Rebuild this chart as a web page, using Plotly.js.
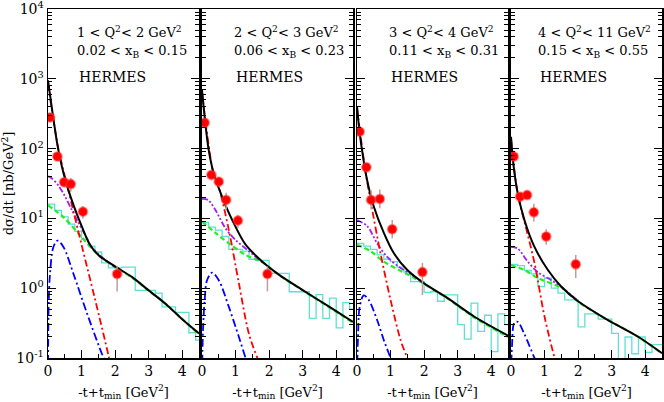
<!DOCTYPE html>
<html>
<head>
<meta charset="utf-8">
<script src="https://cdn.plot.ly/plotly-3.0.1.min.js"></script>
<style>
  html, body {margin: 0; padding: 0; background: white;}
  #chart {width: 664px; height: 402px;}
</style>
</head>
<body>
<div id="chart"></div>
<script>
// y axis ticks (log) and labels
const yTickVals = [0.1, 1, 10, 100, 1000, 10000]
const yTickText = ["10<sup>-1</sup>", "10<sup>0</sup>", "10<sup>1</sup>", "10<sup>2</sup>", "10<sup>3</sup>", "10<sup>4</sup>"]
const xTickVals = [0, 1, 2, 3, 4]

const q2Labels = ["1 &lt; Q<sup>2</sup>&lt; 2 GeV<sup>2</sup>", "2 &lt; Q<sup>2</sup>&lt; 3 GeV<sup>2</sup>", "3 &lt; Q<sup>2</sup>&lt; 4 GeV<sup>2</sup>", "4 &lt; Q<sup>2</sup>&lt; 11 GeV<sup>2</sup>"]
const xbLabels = ["0.02 &lt; x<sub>B</sub> &lt; 0.15", "0.06 &lt; x<sub>B</sub> &lt; 0.23", "0.11 &lt; x<sub>B</sub> &lt; 0.31", "0.15 &lt; x<sub>B</sub> &lt; 0.55"]
const expLabel = "HERMES"

// MC histogram bin edges (shared)
const histEdges = [0, 0.2, 0.4, 0.6, 0.8, 1.0, 1.2, 1.4, 1.6, 1.8, 2.0, 2.2, 2.4, 2.6, 2.8, 3.0, 3.2, 3.4, 3.6, 3.8, 4.0, 4.2, 4.4, 4.6]

// ---- panel 1: 1 < Q2 < 2
const black1T = [0, 0.1, 0.2, 0.3, 0.5, 0.75, 1.0, 1.25, 1.5, 2.0, 2.5, 3.0, 3.5, 4.0, 4.5]
const black1 = [950, 430, 200, 100, 38, 16, 7.8, 4.2, 3.0, 2.05, 1.45, 0.93, 0.6, 0.36, 0.225]
const red1T = [0, 0.3, 0.6, 1.0, 1.4, 1.8, 1.9]
const red1 = [850, 105, 26, 4.2, 0.7, 0.11, 0.065]
const purple1T = [0, 0.1, 0.3, 0.5, 0.7, 0.9, 1.1, 1.3, 1.6, 2.0]
const purple1 = [40, 38, 30, 21, 13.5, 8.8, 5.9, 3.9, 2.8, 2.0]
const green1T = [0, 0.5, 1.0, 1.5, 2.0, 2.5, 3.0, 3.5, 4.0, 4.5]
const green1 = [15.5, 10, 5.4, 3.0, 2.0, 1.42, 0.92, 0.6, 0.36, 0.22]
const blue1T = [0, 0.02, 0.06, 0.16, 0.28, 0.46, 0.76, 1.16, 1.66, 1.8]
const blue1 = [0.05, 0.6, 1.6, 3.9, 4.8, 3.9, 1.6, 0.44, 0.1, 0.075]
const hist1 = [16, 13, 10.5, 8.3, 6.5, 5.0, 4.0, 3.3, 2.3, 1.95, 1.95, 2.0, 2.0, 0.93, 0.93, 0.93, 0.85, 0.54, 0.54, 0.45, 0.45, 0.23, 0.18]
const pt1T = [0.06, 0.28, 0.48, 0.68, 1.04, 2.06]
const pt1 = [280, 77, 33, 31, 12.5, 1.6]
const err1Up = [30, 10, 5, 7, 2.5, 0.5]
const err1Down = [30, 10, 5, 7, 2.5, 0.7]

// ---- panel 2: 2 < Q2 < 3
const black2T = [0, 0.1, 0.2, 0.35, 0.6, 0.9, 1.3, 1.8, 2.3, 3.0, 3.8, 4.5]
const black2 = [690, 229, 95, 44, 20.4, 9.5, 4.2, 2.4, 1.55, 0.94, 0.54, 0.33]
const red2T = [0, 0.2, 0.35, 0.5, 0.8, 1.1, 1.4, 1.65, 1.75]
const red2 = [650, 110, 42, 28, 6.8, 1.17, 0.22, 0.1, 0.075]
const purple2T = [0, 0.18, 0.4, 0.7, 1.0, 1.3, 1.8]
const purple2 = [19, 18.4, 13.2, 7.2, 4.9, 3.7, 2.35]
const green2T = [0, 0.4, 0.8, 1.3, 1.8, 2.3, 3.0, 3.8, 4.5]
const green2 = [9, 6.2, 4.4, 3.0, 2.35, 1.53, 0.93, 0.53, 0.32]
const blue2T = [0, 0.03, 0.08, 0.15, 0.3, 0.5, 0.8, 1.1, 1.3, 1.4]
const blue2 = [0.05, 0.25, 0.68, 1.3, 1.67, 1.3, 0.54, 0.2, 0.1, 0.075]
const hist2 = [8.8, 7.5, 6.8, 5.5, 3.6, 3.6, 3.4, 2.6, 2.5, 2.5, 1.63, 1.63, 1.63, 0.89, 0.89, 0.89, 0.37, 0.81, 0.37, 0.72, 0.27, 0.62, 0.5]
const pt2T = [0.08, 0.28, 0.5, 0.72, 1.07, 1.95]
const pt2 = [235, 42, 33.6, 18.4, 9.3, 1.6]
const err2Up = [25, 6, 5, 5, 2, 0.45]
const err2Down = [25, 6, 5, 5, 2, 0.7]

// ---- panel 3: 3 < Q2 < 4
const black3T = [0, 0.08, 0.18, 0.3, 0.5, 0.8, 1.1, 1.5, 2.0, 2.7, 3.5, 4.5]
const black3 = [400, 166, 76, 35.5, 14.8, 6.2, 3.16, 1.82, 1.17, 0.72, 0.39, 0.21]
const red3T = [0, 0.25, 0.4, 0.7, 1.0, 1.3, 1.5, 1.6]
const red3 = [380, 48, 18.4, 3.16, 0.68, 0.18, 0.1, 0.075]
const purple3T = [0, 0.3, 0.6, 0.9, 1.3, 1.6, 2.0]
const purple3 = [9.5, 7.8, 4.4, 2.8, 1.95, 1.6, 1.17]
const green3T = [0, 0.4, 0.8, 1.3, 1.6, 2.0, 2.7, 3.5, 4.5]
const green3 = [4.2, 3.4, 2.4, 1.77, 1.5, 1.15, 0.71, 0.38, 0.2]
const blue3T = [0, 0.03, 0.08, 0.2, 0.35, 0.6, 0.8, 1.0, 1.1]
const blue3 = [0.05, 0.2, 0.54, 0.79, 0.68, 0.35, 0.18, 0.1, 0.075]
const hist3 = [4.4, 4.0, 3.6, 3.0, 2.6, 2.4, 2.0, 1.7, 1.24, 1.24, 0.87, 0.89, 0.65, 0.8, 0.8, 0.3, 0.186, 0.61, 0.24, 0.41, 0.123, 0.43, 0.3]
const pt3T = [0.08, 0.28, 0.42, 0.68, 1.05, 1.95]
const pt3 = [175, 54, 18.4, 19, 7.0, 1.7]
const err3Up = [20, 7, 7, 7, 2.5, 0.6]
const err3Down = [20, 7, 5, 5, 1.8, 0.9]

// ---- panel 4: 4 < Q2 < 11
const black4T = [0, 0.08, 0.2, 0.4, 0.7, 1.1, 1.5, 2.0, 2.8, 3.8, 4.5]
const black4 = [148, 55, 23, 9.5, 3.9, 1.82, 1.05, 0.65, 0.37, 0.2, 0.117]
const red4T = [0, 0.2, 0.4, 0.5, 0.7, 1.0, 1.3, 1.4]
const red4 = [140, 22, 9, 5.8, 2.3, 0.39, 0.1, 0.07]
const purple4T = [0, 0.2, 0.5, 0.8, 1.2, 1.5, 2.0]
const purple4 = [3.9, 3.7, 2.4, 1.7, 1.3, 1.05, 0.65]
const green4T = [0, 0.4, 0.8, 1.3, 1.6, 2.0, 2.8, 3.8, 4.5]
const green4 = [2.15, 1.82, 1.4, 1.12, 0.95, 0.64, 0.37, 0.2, 0.116]
const blue4T = [0, 0.03, 0.1, 0.2, 0.4, 0.7, 0.8]
const blue4 = [0.05, 0.15, 0.32, 0.33, 0.22, 0.1, 0.08]
const hist4 = [2.2, 2.1, 1.8, 1.6, 1.05, 1.4, 1.0, 0.85, 0.68, 0.68, 0.28, 0.43, 0.43, 0.36, 0.36, 0.225, 0.05, 0.2, 0.115, 0.2, 0.12, 0.155, 0.155]
const pt4T = [0.08, 0.27, 0.48, 0.68, 1.05, 1.93]
const pt4 = [77, 20.5, 21.6, 12.2, 5.5, 2.2]
const err4Up = [8, 2.5, 3, 4, 1.5, 0.8]
const err4Down = [8, 2.5, 3, 3.2, 1.3, 0.8]

const panels = [
  {black: [black1T, black1], red: [red1T, red1], purple: [purple1T, purple1], green: [green1T, green1], blue: [blue1T, blue1], hist: hist1, pts: [pt1T, pt1, err1Up, err1Down]},
  {black: [black2T, black2], red: [red2T, red2], purple: [purple2T, purple2], green: [green2T, green2], blue: [blue2T, blue2], hist: hist2, pts: [pt2T, pt2, err2Up, err2Down]},
  {black: [black3T, black3], red: [red3T, red3], purple: [purple3T, purple3], green: [green3T, green3], blue: [blue3T, blue3], hist: hist3, pts: [pt3T, pt3, err3Up, err3Down]},
  {black: [black4T, black4], red: [red4T, red4], purple: [purple4T, purple4], green: [green4T, green4], blue: [blue4T, blue4], hist: hist4, pts: [pt4T, pt4, err4Up, err4Down]}
]

// Liberation Serif does not resolve here, DejaVu Serif does
const serif = "DejaVu Serif"
const curve = (xy, xa, ya, color, width, dash) => ({
  x: xy[0], y: xy[1], xaxis: xa, yaxis: ya, type: "scatter", mode: "lines",
  line: {color, width, dash, shape: "spline", smoothing: 0.9}, hoverinfo: "skip", showlegend: false
})

const data = []
panels.forEach((p, i) => {
  const xa = i === 0 ? "x" : "x" + (i + 1)
  const ya = i === 0 ? "y" : "y" + (i + 1)
  data.push({
    x: histEdges, y: p.hist.concat([p.hist[p.hist.length - 1]]), xaxis: xa, yaxis: ya,
    type: "scatter", mode: "lines", line: {color: "#5fe0d4", width: 1.3, shape: "hv"}, hoverinfo: "skip", showlegend: false
  })
  data.push(curve(p.green, xa, ya, "#22ee22", 2.2, "5px,3px"))
  data.push(curve(p.blue, xa, ya, "#0000ff", 1.8, "8px,3px,2px,3px"))
  data.push(curve(p.purple, xa, ya, "#a020f0", 1.8, "6px,2px,2px,2px,2px,2px"))
  data.push(curve(p.red, xa, ya, "#ff0000", 1.8, "7px,3px,2px,3px"))
  data.push(curve(p.black, xa, ya, "#000000", 2, "solid"))
  data.push({
    x: p.pts[0], y: p.pts[1], xaxis: xa, yaxis: ya, type: "scatter", mode: "markers",
    marker: {color: "#ff0000", size: 9, line: {color: "rgba(255,60,60,0.45)", width: 2}},
    error_y: {type: "data", symmetric: false, array: p.pts[2], arrayminus: p.pts[3], color: "#c79a9a", thickness: 1.5, width: 0},
    hoverinfo: "skip", showlegend: false
  })
})

// minor tick positions on the log axis
const yMinor = []
for (let e = -1; e < 4; e++) for (let m = 2; m <= 9; m++) yMinor.push(m * Math.pow(10, e))

const W = 614
const domains = [[0, 151 / W], [154 / W, 305 / W], [309 / W, 460 / W], [463 / W, 1]]
const labelLeftPx = [27, 30, 30, 25]
const layout = {
  width: 664, height: 402,
  margin: {l: 48, r: 2, t: 9, b: 44},
  paper_bgcolor: "white", plot_bgcolor: "white",
  showlegend: false,
  font: {family: serif, size: 13, color: "black"},
  annotations: []
}

domains.forEach((d, i) => {
  const n = i === 0 ? "" : String(i + 1)
  layout["xaxis" + n] = {
    domain: d, anchor: "y" + n, range: [0, 4.5],
    tickmode: "array", tickvals: xTickVals, ticks: "inside", ticklen: 8, tickwidth: 1, tickcolor: "black",
    minor: {dtick: 0.5, tick0: 0, ticks: "inside", ticklen: 4, tickcolor: "black"},
    showline: true, linecolor: "black", linewidth: 1.5, mirror: true,
    showgrid: false, zeroline: false,
    tickfont: {family: serif, size: 14, color: "black"},
    title: {text: "-t+t<sub>min</sub> [GeV<sup>2</sup>]", font: {family: serif, size: 13, color: "black"}, standoff: 9}
  }
  layout["yaxis" + n] = {
    domain: [0, 1], anchor: "x" + n, type: "log", range: [-1, 4],
    tickmode: "array", tickvals: yTickVals, ticktext: yTickText, showticklabels: i === 0,
    ticklabeloverflow: "allow",
    ticks: "inside", ticklen: 8, tickwidth: 1, tickcolor: "black",
    minor: {tickmode: "array", tickvals: yMinor, ticks: "inside", ticklen: 4, tickcolor: "black"},
    showline: true, linecolor: "black", linewidth: 1.5, mirror: "allticks",
    showgrid: false, zeroline: false,
    tickfont: {family: serif, size: 14, color: "black"},
    title: i === 0 ? {text: "dσ/dt [nb/GeV<sup>2</sup>]", font: {family: serif, size: 13, color: "black"}, standoff: 5} : {text: ""}
  }
  const xref = (i === 0 ? "x" : "x" + (i + 1)) + " domain"
  const fx = labelLeftPx[i] / 151
  const lines = [[q2Labels[i], 0.934, 13], [xbLabels[i], 0.877, 13], [expLabel, 0.805, 14]]
  lines.forEach(([text, y, size], k) => {
    layout.annotations.push({
      text, xref, yref: "paper", x: fx + (k === 2 ? 2 / 151 : 0), y,
      xanchor: "left", yanchor: "middle", showarrow: false,
      font: {family: serif, size, color: "black"}
    })
  })
})

Plotly.newPlot("chart", data, layout, {displayModeBar: false, staticPlot: true})
</script>
</body>
</html>
